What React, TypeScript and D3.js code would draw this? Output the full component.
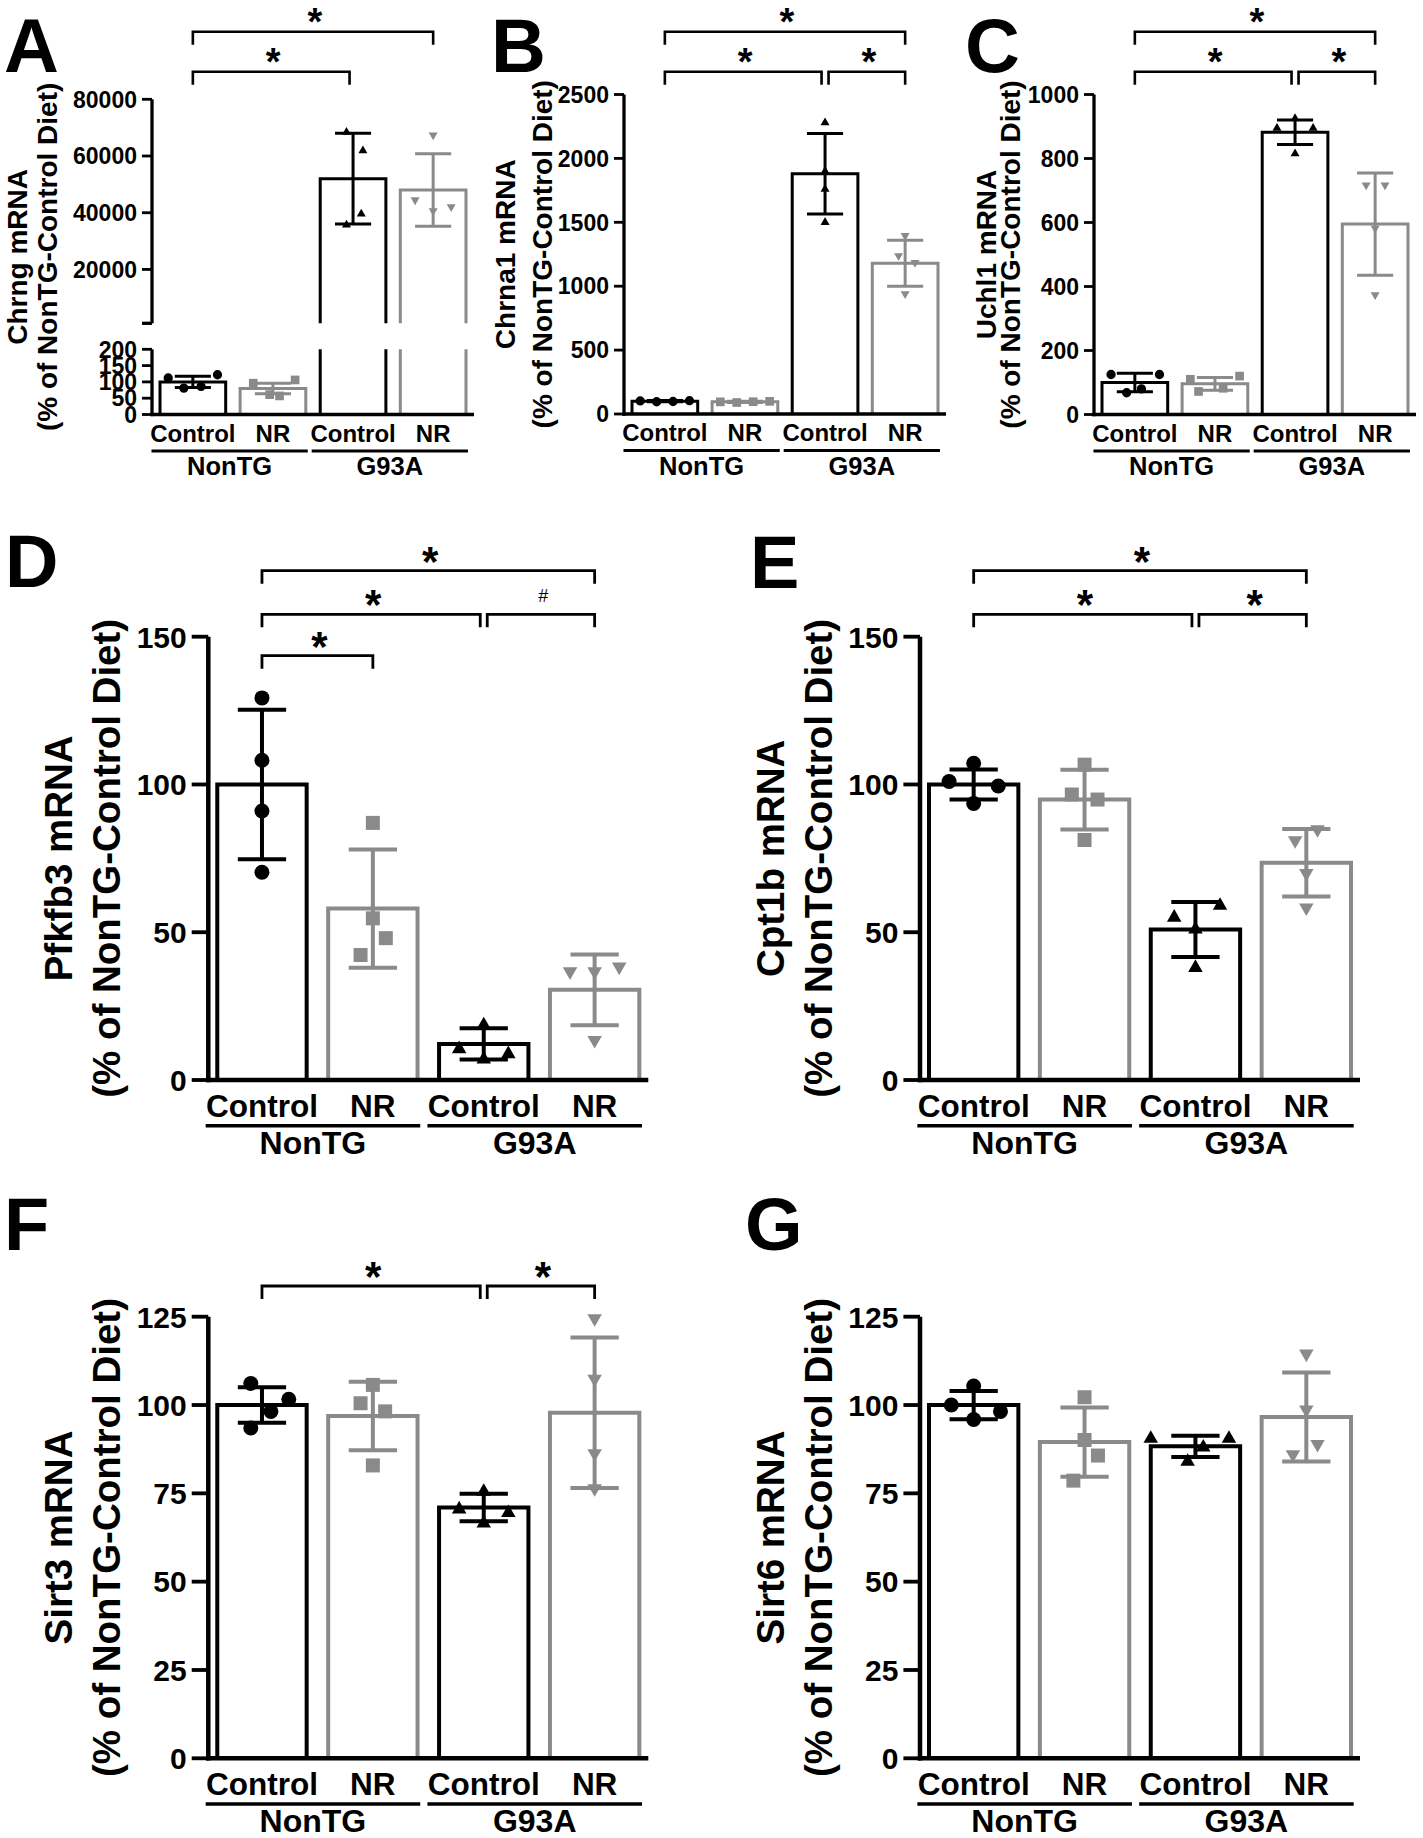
import React from "react";
import * as d3 from "d3";

const FONT = "'Liberation Sans', Arial, Helvetica, sans-serif";
const BLACK = "#000000";
const GRAY = "#8a8a8a";

// ---------- shared categories ----------
const treatments = ["Control", "NR", "Control", "NR"];
const genotypes = ["NonTG", "G93A"];
const barColors = [BLACK, GRAY, BLACK, GRAY];
const markerShapes = ["circle", "square", "triangleUp", "triangleDown"];
const yLabelSecond = "(% of NonTG-Control Diet)";

// ---------- A: Chrng ----------
const chrngMean = [100, 80, 52000, 48000];
const chrngSD = [17, 16, 16000, 12800];
const chrngPoints = [[112, 122, 81, 86], [96, 106, 61, 57], [68400, 61900, 39600, 35700], [67400, 44500, 42100, 40700]];
const chrngSpread = [[-1.5, 1.5, -0.55, 0.5], [-1.2, 1.35, -0.2, 0.4], [-0.4, 0.6, 0.5, -0.4], [0, -1.1, 1.1, 0]];
const chrngTicksLow = [0, 50, 100, 150, 200];
const chrngTicksHigh = [20000, 40000, 60000, 80000];

// ---------- B: Chrna1 ----------
const chrna1Mean = [100, 95, 1880, 1180];
const chrna1SD = [5, 5, 315, 180];
const chrna1Points = [[102, 96, 98, 104], [95, 90, 96, 99], [2280, 1900, 1760, 1500], [1395, 1238, 1184, 940]];
const chrna1Spread = [[-1.5, -0.5, 0.5, 1.5], [-1.5, -0.5, 0.5, 1.5], [0, 0, 0, 0], [0, -0.4, 0.6, 0]];
const chrna1Ticks = [0, 500, 1000, 1500, 2000, 2500];

// ---------- C: Uchl1 ----------
const uchl1Mean = [100, 96, 882, 595];
const uchl1SD = [29, 20, 38, 160];
const uchl1Points = [[125, 125, 68, 80], [110, 120, 72, 82], [895, 895, 815, 925], [717, 717, 582, 374]];
const uchl1Spread = [[-1.45, 1.5, -0.5, 0.4], [-1.5, 1.5, -1, 0.5], [-1.1, 1.1, 0, 0], [-0.55, 0.6, 0, 0]];
const uchl1Ticks = [0, 200, 400, 600, 800, 1000];

// ---------- D: Pfkfb3 ----------
const pfkfb3Mean = [100, 58, 12.2, 30.5];
const pfkfb3SD = [25.3, 20, 5.3, 12];
const pfkfb3Points = [[129.3, 108.2, 91, 70.3], [87, 54.7, 48, 42.3], [18.6, 10.5, 8.8, 7], [36.7, 36.7, 38.3, 13.5]];
const pfkfb3Spread = [[0, 0, 0, 0], [0, 0, 0.58, -0.55], [0, -1.1, 1.1, 0], [-1.1, 0, 1.1, 0]];
const ticks150 = [0, 50, 100, 150];

// ---------- E: Cpt1b ----------
const cpt1bMean = [100, 94.9, 50.9, 73.5];
const cpt1bSD = [5.1, 10.1, 9.3, 11.4];
const cpt1bPoints = [[101, 107.2, 99.5, 93.6], [106.7, 96.6, 94.9, 81.2], [55, 59, 38, 51], [81.1, 84.8, 58.3, 70]];
const cpt1bSpread = [[-1.1, 0, 1.1, 0], [0, -0.57, 0.58, 0], [-0.95, 1.1, 0, 0], [-0.5, 0.5, 0, 0]];

// ---------- F: Sirt3 ----------
const sirt3Mean = [100, 96.9, 71, 97.8];
const sirt3SD = [5, 9.7, 3.9, 21.3];
const sirt3Points = [[106.1, 101.6, 98.2, 93.5], [105.7, 100.5, 98.2, 82.9], [75.5, 70.5, 69.5, 66.5], [124.5, 107.4, 86.3, 76.4]];
const sirt3Spread = [[-0.5, 1.2, 0.4, -0.5], [0, -0.55, 0.55, 0], [0, -1.1, 1.1, 0], [0, 0, 0, 0]];
const ticks125 = [0, 25, 50, 75, 100, 125];

// ---------- G: Sirt6 ----------
const sirt6Mean = [100, 89.5, 88.3, 96.6];
const sirt6SD = [4, 9.8, 3, 12.6];
const sirt6Points = [[105.4, 100, 98.2, 95.9], [102.2, 90.1, 85.7, 78.6], [90.5, 90.5, 88, 84], [114.5, 98.7, 88.9, 86]];
const sirt6Spread = [[0, -1, 1.2, 0], [0, 0, 0.6, -0.5], [-2, 1.5, 0.35, -0.35], [0, 0, 0.5, -0.6]];

type Bracket = { a: number; b: number; y: number; label: string };
type Broken = { lowMax: number; lowTop: number; highMin: number; highBottom: number; lowTicks: number[]; highTicks: number[] };
type PanelSpec = {
  letter: string; letterX: number; letterY: number;
  axisX: number; y0: number; yTop: number; domainMax: number; ticks: number[];
  mean: number[]; sd: number[]; points: number[][]; spread: number[][];
  ylabel: string; yOff: [number, number];
  brackets: Bracket[]; big: boolean; broken?: Broken;
};

const SMALL = {
  span: 322, padIn: 0.18, padOut: 0.1, tickFont: 23, labelFont: 24, groupFont: 25.5, yFont: 28,
  axisW: 3.3, barW: 3, errW: 3, bracketW: 2.6, groupW: 3, tickLen: 10, tickGap: 5, capFrac: 0.55,
  labelDy: 27, groupLineDy: 36.5, groupDy: 60.5, starFont: 38, bracketTick: 13, starRise: 18, m: 0.62, letterFont: 76,
};
const BIG = {
  span: 440, padIn: 0.194, padOut: 0.081, tickFont: 30, labelFont: 31.5, groupFont: 32, yFont: 38.5,
  axisW: 4.5, barW: 4, errW: 4, bracketW: 2.8, groupW: 3.5, tickLen: 16.6, tickGap: 5, capFrac: 0.54,
  labelDy: 36.7, groupLineDy: 45.7, groupDy: 74, starFont: 42, bracketTick: 13, starRise: 19, m: 1, letterFont: 74,
};

function marker(shape: string, scale: number) {
  if (shape === "circle") return d3.symbol(d3.symbolCircle, Math.PI * (7.5 * scale) ** 2)() as string;
  if (shape === "square") return d3.symbol(d3.symbolSquare, (14 * scale) ** 2)() as string;
  const a = 14.5 * scale;
  return d3.symbol(d3.symbolTriangle, (Math.sqrt(3) / 4) * a * a)() as string;
}

function Panel({ spec }: { spec: PanelSpec }) {
  const st = spec.big ? BIG : SMALL;
  const x = d3.scaleBand<number>().domain([0, 1, 2, 3])
    .range([spec.axisX, spec.axisX + st.span]).paddingInner(st.padIn).paddingOuter(st.padOut);
  const bw = x.bandwidth();
  const left = (i: number) => x(i) as number;
  const cx = (i: number) => left(i) + bw / 2;
  const unit = bw * 0.25;
  let y: (v: number) => number;
  const br = spec.broken;
  if (br) {
    const lo = d3.scaleLinear().domain([0, br.lowMax]).range([spec.y0, br.lowTop]);
    const hi = d3.scaleLinear().domain([br.highMin, spec.domainMax]).range([br.highBottom, spec.yTop]);
    y = (v) => (v <= br.lowMax ? lo(v) : hi(v));
  } else {
    const s = d3.scaleLinear().domain([0, spec.domainMax]).range([spec.y0, spec.yTop]);
    y = (v) => s(v);
  }
  const tickList = br ? [...br.lowTicks, ...br.highTicks] : spec.ticks;
  const yMid = (spec.y0 + spec.yTop) / 2;
  const cap = bw * st.capFrac;
  const groupSpans = [0, 2].map((g) => [left(g) - 0.13 * bw, left(g + 1) + bw * 1.03]);

  return (
    <g fontFamily={FONT} fontWeight="bold">
      {/* panel letter */}
      <text x={spec.letterX} y={spec.letterY} fontSize={st.letterFont} fill={BLACK}>{spec.letter}</text>

      {/* y label */}
      <text transform={`translate(${spec.axisX + spec.yOff[0]},${yMid}) rotate(-90)`} textAnchor="middle" fontSize={st.yFont}>
        {spec.ylabel}
      </text>
      <text transform={`translate(${spec.axisX + spec.yOff[1]},${yMid}) rotate(-90)`} textAnchor="middle" fontSize={st.yFont}>
        {yLabelSecond}
      </text>

      {/* bars */}
      {spec.mean.map((m, i) => {
        const l = left(i), r = l + bw, top = y(m);
        const col = barColors[i];
        if (br && m > br.lowMax) {
          return (
            <g key={i} stroke={col} strokeWidth={st.barW} fill="none">
              <path d={`M${l},${spec.y0} V${br.lowTop} M${r},${spec.y0} V${br.lowTop}`} />
              <path d={`M${l},${br.highBottom} V${top} H${r} V${br.highBottom}`} />
            </g>
          );
        }
        return <path key={i} d={`M${l},${spec.y0} V${top} H${r} V${spec.y0}`} stroke={col} strokeWidth={st.barW} fill="#fff" />;
      })}

      {/* error bars */}
      {spec.mean.map((m, i) => {
        const c = cx(i), hiY = y(m + spec.sd[i]), loY = y(m - spec.sd[i]);
        return (
          <path key={i} d={`M${c},${hiY} V${loY} M${c - cap / 2},${hiY} H${c + cap / 2} M${c - cap / 2},${loY} H${c + cap / 2}`}
            stroke={barColors[i]} strokeWidth={st.errW} fill="none" />
        );
      })}

      {/* points */}
      {spec.points.map((pts, i) => (
        <g key={i} fill={barColors[i]}>
          {pts.map((v, k) => {
            const px = cx(i) + spec.spread[i][k] * unit;
            const rot = markerShapes[i] === "triangleDown" ? " rotate(180)" : "";
            return <path key={k} d={marker(markerShapes[i], st.m)} transform={`translate(${px},${y(v)})${rot}`} />;
          })}
        </g>
      ))}

      {/* axes */}
      {br ? (
        <g stroke={BLACK} strokeWidth={st.axisW} fill="none">
          <line x1={spec.axisX} x2={spec.axisX} y1={spec.y0 + st.axisW / 2} y2={br.lowTop} />
          <line x1={spec.axisX} x2={spec.axisX} y1={br.highBottom} y2={spec.yTop} />
          <line x1={spec.axisX - st.tickLen} x2={spec.axisX} y1={br.highBottom} y2={br.highBottom} />
        </g>
      ) : (
        <line x1={spec.axisX} x2={spec.axisX} y1={spec.y0 + st.axisW / 2} y2={spec.yTop} stroke={BLACK} strokeWidth={st.axisW} />
      )}
      <line x1={spec.axisX - st.axisW / 2} x2={spec.axisX + st.span} y1={spec.y0} y2={spec.y0} stroke={BLACK} strokeWidth={st.axisW} />
      {tickList.map((t) => (
        <g key={t}>
          <line x1={spec.axisX - st.tickLen} x2={spec.axisX} y1={y(t)} y2={y(t)} stroke={BLACK} strokeWidth={st.axisW * 0.85} />
          <text x={spec.axisX - st.tickLen - st.tickGap} y={y(t)} dy="0.36em" textAnchor="end" fontSize={st.tickFont}>{t}</text>
        </g>
      ))}

      {/* x labels */}
      {treatments.map((t, i) => (
        <text key={i} x={cx(i)} y={spec.y0 + st.labelDy} textAnchor="middle" fontSize={st.labelFont}>{t}</text>
      ))}
      {groupSpans.map(([a, b], g) => (
        <g key={g}>
          <line x1={a} x2={b} y1={spec.y0 + st.groupLineDy} y2={spec.y0 + st.groupLineDy} stroke={BLACK} strokeWidth={st.groupW} />
          <text x={(a + b) / 2} y={spec.y0 + st.groupDy} textAnchor="middle" fontSize={st.groupFont}>{genotypes[g]}</text>
        </g>
      ))}

      {/* significance brackets */}
      {spec.brackets.map((b, k) => {
        const xa = cx(b.a) + (b.a === 2 ? 3.5 : 0);
        const xb = cx(b.b) + (b.b === 2 ? -3.5 : 0);
        const mid = (xa + xb) / 2 + 2;
        const center = b.y - st.starRise;
        const isHash = b.label === "#";
        const fs = isHash ? 18 : st.starFont;
        return (
          <g key={k}>
            <path d={`M${xa},${b.y + st.bracketTick} V${b.y} H${xb} V${b.y + st.bracketTick}`} stroke={BLACK} strokeWidth={st.bracketW} fill="none" />
            <text x={mid} y={center + (isHash ? 0.36 : 0.57) * fs} textAnchor="middle" fontSize={fs}
              fontStyle={isHash ? "italic" : "normal"} fontWeight={isHash ? "normal" : "bold"}>{b.label}</text>
          </g>
        );
      })}
    </g>
  );
}

const panels: PanelSpec[] = [
  {
    letter: "A", letterX: 4, letterY: 72, axisX: 152, y0: 414.5, yTop: 99.3, domainMax: 80000, ticks: [],
    mean: chrngMean, sd: chrngSD, points: chrngPoints, spread: chrngSpread,
    ylabel: "Chrng mRNA", yOff: [-125, -95], big: false,
    broken: { lowMax: 200, lowTop: 349.3, highMin: 1000, highBottom: 323.3, lowTicks: chrngTicksLow, highTicks: chrngTicksHigh },
    brackets: [{ a: 0, b: 2, y: 71.7, label: "*" }, { a: 0, b: 3, y: 31.7, label: "*" }],
  },
  {
    letter: "B", letterX: 491, letterY: 72, axisX: 624, y0: 414, yTop: 94.5, domainMax: 2500, ticks: chrna1Ticks,
    mean: chrna1Mean, sd: chrna1SD, points: chrna1Points, spread: chrna1Spread,
    ylabel: "Chrna1 mRNA", yOff: [-109, -72], big: false,
    brackets: [{ a: 0, b: 2, y: 71.7, label: "*" }, { a: 2, b: 3, y: 71.7, label: "*" }, { a: 0, b: 3, y: 31.7, label: "*" }],
  },
  {
    letter: "C", letterX: 965, letterY: 72, axisX: 1094, y0: 414.5, yTop: 94.5, domainMax: 1000, ticks: uchl1Ticks,
    mean: uchl1Mean, sd: uchl1SD, points: uchl1Points, spread: uchl1Spread,
    ylabel: "Uchl1 mRNA", yOff: [-98, -74], big: false,
    brackets: [{ a: 0, b: 2, y: 71.7, label: "*" }, { a: 2, b: 3, y: 71.7, label: "*" }, { a: 0, b: 3, y: 31.7, label: "*" }],
  },
  {
    letter: "D", letterX: 5, letterY: 587, axisX: 208.3, y0: 1080, yTop: 636.7, domainMax: 150, ticks: ticks150,
    mean: pfkfb3Mean, sd: pfkfb3SD, points: pfkfb3Points, spread: pfkfb3Spread,
    ylabel: "Pfkfb3 mRNA", yOff: [-136, -88], big: true,
    brackets: [
      { a: 0, b: 1, y: 655.7, label: "*" }, { a: 0, b: 2, y: 614.3, label: "*" },
      { a: 2, b: 3, y: 614.3, label: "#" }, { a: 0, b: 3, y: 570.7, label: "*" },
    ],
  },
  {
    letter: "E", letterX: 750, letterY: 588, axisX: 920, y0: 1080, yTop: 636.7, domainMax: 150, ticks: ticks150,
    mean: cpt1bMean, sd: cpt1bSD, points: cpt1bPoints, spread: cpt1bSpread,
    ylabel: "Cpt1b mRNA", yOff: [-136, -88], big: true,
    brackets: [{ a: 0, b: 2, y: 614.3, label: "*" }, { a: 2, b: 3, y: 614.3, label: "*" }, { a: 0, b: 3, y: 570.7, label: "*" }],
  },
  {
    letter: "F", letterX: 4, letterY: 1250, axisX: 208.3, y0: 1758.3, yTop: 1316.7, domainMax: 125, ticks: ticks125,
    mean: sirt3Mean, sd: sirt3SD, points: sirt3Points, spread: sirt3Spread,
    ylabel: "Sirt3 mRNA", yOff: [-136, -88], big: true,
    brackets: [{ a: 0, b: 2, y: 1286, label: "*" }, { a: 2, b: 3, y: 1286, label: "*" }],
  },
  {
    letter: "G", letterX: 745, letterY: 1250, axisX: 920, y0: 1758.3, yTop: 1316.7, domainMax: 125, ticks: ticks125,
    mean: sirt6Mean, sd: sirt6SD, points: sirt6Points, spread: sirt6Spread,
    ylabel: "Sirt6 mRNA", yOff: [-136, -88], big: true,
    brackets: [],
  },
];

export default function App() {
  return (
    <svg width={1423} height={1838} viewBox="0 0 1423 1838"
      style={{ position: "absolute", left: 0, top: 0, display: "block", background: "#fff" }}>
      <rect x={0} y={0} width={1423} height={1838} fill="#fff" />
      {panels.map((p) => <Panel key={p.letter} spec={p} />)}
    </svg>
  );
}
